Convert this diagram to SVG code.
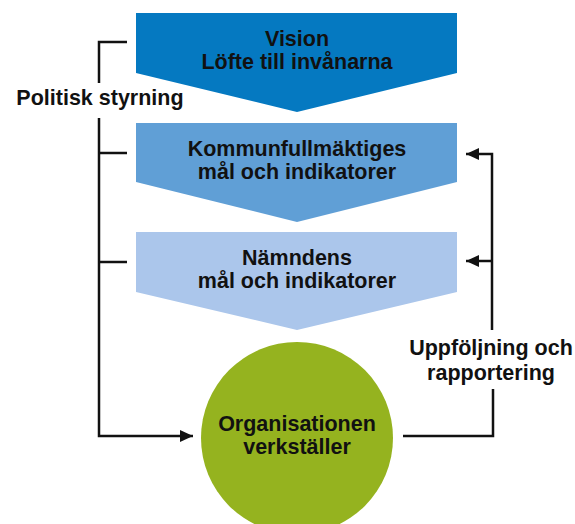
<svg xmlns="http://www.w3.org/2000/svg" width="575" height="524" viewBox="0 0 575 524">
<style>
.t{font-family:"Liberation Sans",Arial,sans-serif;font-weight:bold;font-size:21.5px;fill:#111;text-anchor:middle}
.ln{fill:none;stroke:#111;stroke-width:2.5}
</style>
<defs>
<marker id="ah" markerUnits="userSpaceOnUse" markerWidth="14" markerHeight="14" refX="13" refY="7" orient="auto">
<path d="M0,1 L13,7 L0,13 Z" fill="#111"/>
</marker>
</defs>
<rect width="575" height="524" fill="#fff"/>
<g id="vision">
<polygon points="136,13 457,13 457,73 297,112 136,73" fill="#0579c1"/>
<text class="t" x="297" y="46">Vision</text>
<text class="t" x="297" y="69">Löfte till invånarna</text>
</g>
<g id="kommunfullmaktige">
<polygon points="136,123 457,123 457,182 297,222 136,182" fill="#609fd6"/>
<text class="t" x="297" y="156">Kommunfullmäktiges</text>
<text class="t" x="297" y="179">mål och indikatorer</text>
</g>
<g id="namnden">
<polygon points="136,232 457,232 457,292 297,330 136,292" fill="#abc6eb"/>
<text class="t" x="297" y="265">Nämndens</text>
<text class="t" x="297" y="288">mål och indikatorer</text>
</g>
<g id="organisationen">
<circle cx="297" cy="438" r="96" fill="#95b31f"/>
<text class="t" x="297" y="431">Organisationen</text>
<text class="t" x="297" y="454">verkställer</text>
</g>
<g id="politisk-styrning">
<text class="t" x="100" y="105">Politisk styrning</text>
</g>
<g id="uppfoljning">
<text class="t" x="491" y="355">Uppföljning och</text>
<text class="t" x="491" y="380">rapportering</text>
</g>
<g id="connectors">
<path class="ln" d="M127,42 H99 V83"/>
<path class="ln" d="M99,118 V436 H193" marker-end="url(#ah)"/>
<path class="ln" d="M99,153 H127"/>
<path class="ln" d="M99,262 H127"/>
<path class="ln" d="M403,436 H493 V389"/>
<path class="ln" d="M492,330 V154 H466" marker-end="url(#ah)"/>
<path class="ln" d="M492,261 H466" marker-end="url(#ah)"/>
</g>
</svg>
